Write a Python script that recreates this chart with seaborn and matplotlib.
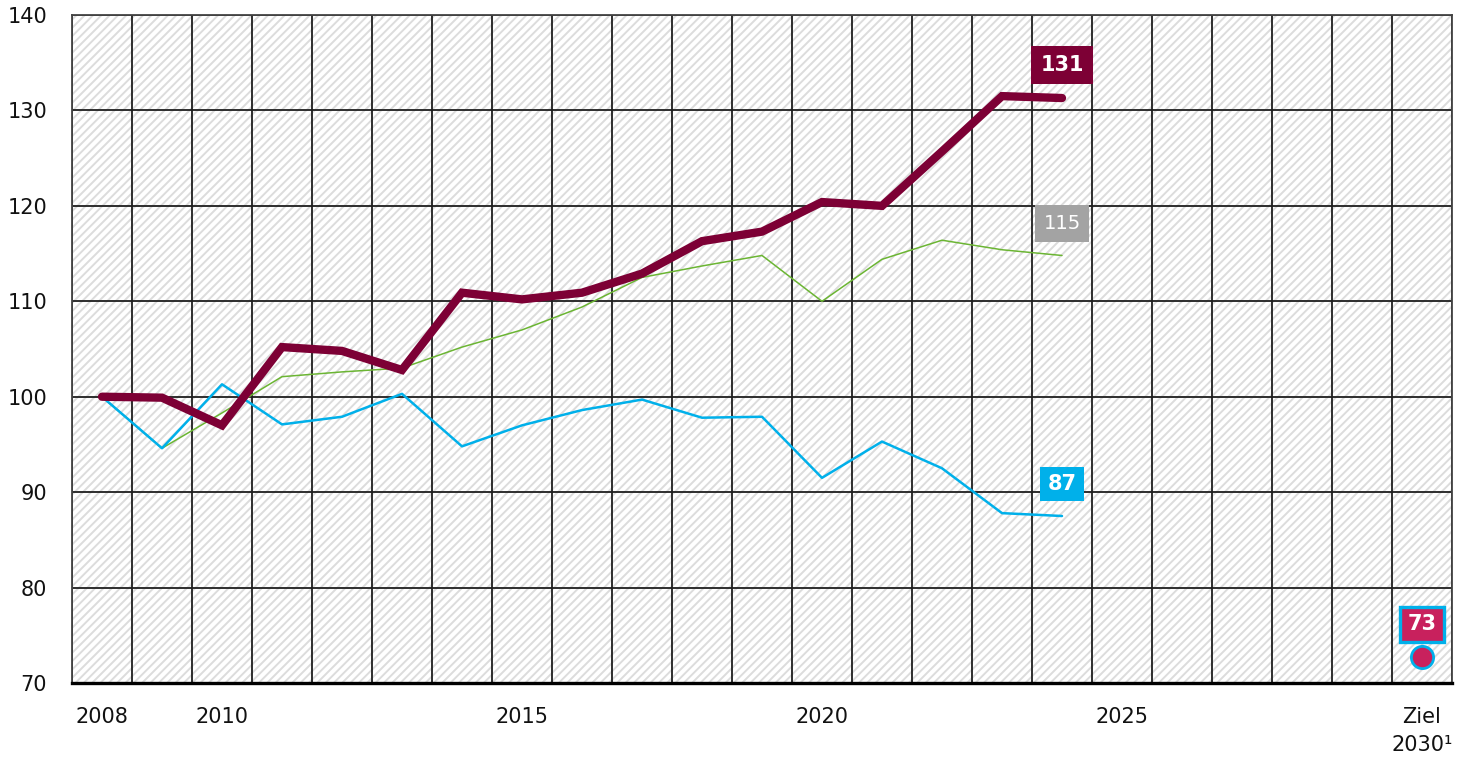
import matplotlib
matplotlib.use("Agg")
import matplotlib.pyplot as plt
import seaborn as sns
import pandas as pd
from matplotlib.patches import Rectangle
from matplotlib.ticker import FixedLocator

# ---- data ----
years = list(range(2008, 2025))
series_main = [100.0, 99.9, 97.0, 105.2, 104.8, 102.8, 110.9, 110.2, 110.9, 112.9,
               116.3, 117.3, 120.4, 120.0, 125.7, 131.5, 131.3]
series_green = [100.0, 94.6, 98.3, 102.1, 102.6, 103.0, 105.2, 107.0, 109.4, 112.5,
                113.7, 114.8, 110.0, 114.4, 116.4, 115.4, 114.8]
series_blue = [100.0, 94.6, 101.3, 97.1, 97.9, 100.3, 94.8, 97.0, 98.6, 99.7,
               97.8, 97.9, 91.5, 95.3, 92.5, 87.8, 87.5]
end_labels = ["131", "115", "87"]
target_value = 72.7
target_label = "73"
categories = [str(y) for y in range(2008, 2030)] + ["Ziel\n2030¹"]
shown_labels = ["2008", "2010", "2015", "2020", "2025", "Ziel\n2030¹"]
y_ticks = [70, 80, 90, 100, 110, 120, 130, 140]

C_MAIN = "#7d0035"
C_GREEN = "#6bb533"
C_BLUE = "#00b0ea"
C_GRAY = "#a3a3a3"
C_TARGET = "#c8215d"

sns.set_style("white")
plt.rcParams["font.family"] = ["DejaVu Sans"]
plt.rcParams["hatch.linewidth"] = 1.4

fig = plt.figure(figsize=(14.65, 7.59), dpi=100)
ax = fig.add_axes([72 / 1465, 1 - 683 / 759, (1452 - 72) / 1465, (683 - 15) / 759])

xpos = {c: i for i, c in enumerate(categories)}
xs = [xpos[str(y)] for y in years]

# hatched background
ax.add_patch(Rectangle((0, 0), 1, 1, transform=ax.transAxes, facecolor="white",
                       edgecolor="#dcdcdc", hatch="////", linewidth=0, zorder=0))

df = pd.DataFrame({"x": xs, "main": series_main, "green": series_green, "blue": series_blue})
sns.lineplot(data=df, x="x", y="green", ax=ax, color=C_GREEN, linewidth=1.1, zorder=3)
sns.lineplot(data=df, x="x", y="blue", ax=ax, color=C_BLUE, linewidth=1.8, zorder=4)
sns.lineplot(data=df, x="x", y="main", ax=ax, color=C_MAIN, linewidth=6.0, zorder=5,
             solid_capstyle="round", solid_joinstyle="miter")

ax.set_xlim(-0.5, len(categories) - 0.5)
ax.set_ylim(70, 140)

# target marker
tx = xpos["Ziel\n2030¹"]
ax.plot([tx], [target_value], marker="o", markersize=16, markerfacecolor=C_TARGET,
        markeredgecolor=C_BLUE, markeredgewidth=2, linestyle="none", zorder=6, clip_on=False)

# end labels
lx = xs[-1]
ax.annotate(end_labels[0], (lx, series_main[-1]), xytext=(0, 33), textcoords="offset pixels",
            ha="center", va="center", color="white", fontsize=15, fontweight="bold",
            bbox=dict(boxstyle="square,pad=0.45", facecolor=C_MAIN, edgecolor="none"), zorder=7)
ax.annotate(end_labels[1], (lx, series_green[-1]), xytext=(0, 32), textcoords="offset pixels",
            ha="center", va="center", color="white", fontsize=14,
            bbox=dict(boxstyle="square,pad=0.45", facecolor=C_GRAY, edgecolor="none"), zorder=7)
ax.annotate(end_labels[2], (lx, series_blue[-1]), xytext=(0, 32), textcoords="offset pixels",
            ha="center", va="center", color="white", fontsize=15, fontweight="bold",
            bbox=dict(boxstyle="square,pad=0.35", facecolor=C_BLUE, edgecolor="none"), zorder=7)
ax.annotate(target_label, (tx, target_value), xytext=(0, 33), textcoords="offset pixels",
            ha="center", va="center", color="white", fontsize=15, fontweight="bold",
            bbox=dict(boxstyle="square,pad=0.35", facecolor=C_TARGET, edgecolor=C_BLUE,
                      linewidth=2.4), zorder=7)

# axes / grid
ax.set_yticks(y_ticks)
ax.set_yticklabels([str(v) for v in y_ticks])
ax.set_xticks([xpos[c] for c in shown_labels])
ax.set_xticklabels(shown_labels, linespacing=1.5)
ax.xaxis.set_minor_locator(FixedLocator([i - 0.5 for i in range(len(categories) + 1)]))
ax.tick_params(axis="y", which="major", length=0, pad=18, labelsize=15, labelcolor="#111111")
ax.tick_params(axis="x", which="major", length=0, pad=17, labelsize=15, labelcolor="#111111")
ax.tick_params(axis="x", which="minor", length=8, width=2.2, color="black", direction="out")
ax.grid(True, axis="y", which="major", color="#1e1e1e", linewidth=1.3, zorder=1)
ax.grid(True, axis="x", which="minor", color="#1e1e1e", linewidth=1.3, zorder=1)
ax.grid(False, axis="x", which="major")
ax.set_axisbelow(True)
ax.set_xlabel("")
ax.set_ylabel("")
for s in ["top", "left", "right"]:
    ax.spines[s].set_visible(True)
    ax.spines[s].set_color("#444444")
    ax.spines[s].set_linewidth(1.3)
ax.spines["bottom"].set_color("black")
ax.spines["bottom"].set_linewidth(2.4)

fig.savefig("out.png", dpi=100)
